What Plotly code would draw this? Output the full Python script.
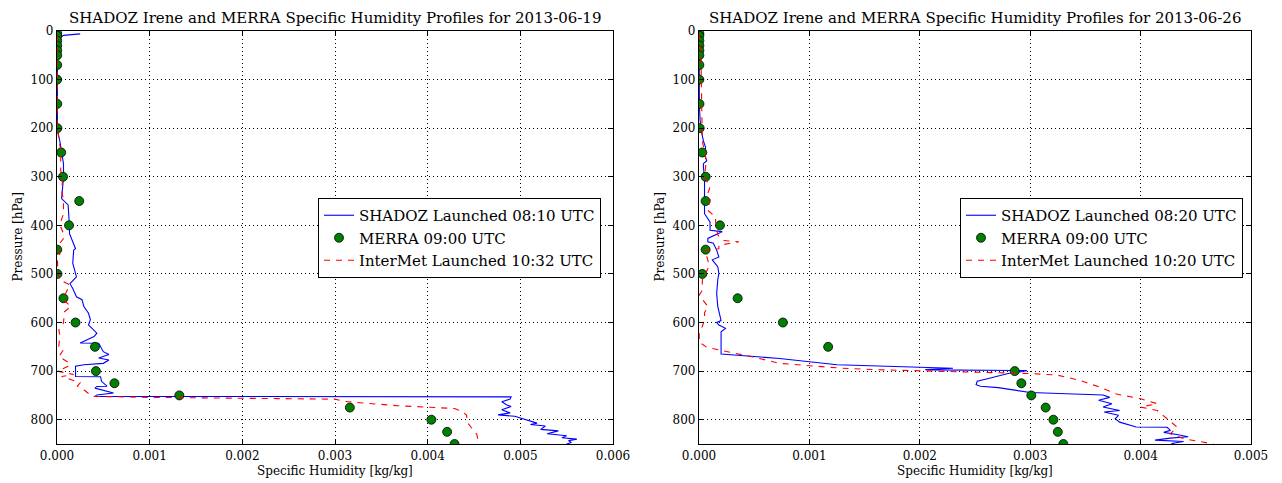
import plotly.graph_objects as go

# ---------------- Data: 2013-06-19 ----------------
merra_p = [5, 10, 20, 30, 40, 50, 70, 100, 150, 200, 250, 300, 350, 400, 450, 500,
           550, 600, 650, 700, 725, 750, 775, 800, 825, 850]
merra_q_19 = [0.000002, 0.000002, 0.000002, 0.000002, 0.000002, 0.000002, 0.000002, 0.000002,
              0.000003, 0.000004, 0.000045, 0.000065, 0.00024, 0.00013, 0.000003, 0.000005,
              0.00007, 0.0002, 0.00041, 0.00042, 0.00062, 0.00132, 0.00316, 0.00404, 0.00421, 0.00429]

shadoz_p_19 = [6, 9, 14.5, 25, 60, 100, 150, 205, 226, 246, 273, 301, 318, 345, 358, 382, 400,
               417, 424, 448, 451, 478, 506, 520, 530, 547, 553, 567, 581, 594, 605, 622, 629,
               642, 642.5, 649, 660, 666, 673, 677, 684, 687, 690, 697, 707, 711, 711.5, 721,
               731, 731.5, 735, 745, 749, 752, 753, 757.6, 763, 769, 773, 779.5, 786, 790, 793,
               800, 807, 810, 813, 820, 823, 829, 833, 837, 840, 843, 847, 850]
shadoz_q_19 = [0.00025, 0.00007, 0.00003, 0.000005, 0.000004, 0.000004, 0.000004, 0.000005,
               0.00003, 0.00005, 0.00007, 0.00007, 0.00006, 0.00005, 0.00012, 0.00013, 0.000134,
               0.000135, 0.00015, 0.0002, 0.00018, 0.00017, 0.00021, 0.00014, 0.00017, 0.00021,
               0.00027, 0.00029, 0.00034, 0.00036, 0.00034, 0.00043, 0.0004, 0.00025, 0.00045,
               0.00047, 0.0005, 0.00056, 0.00045, 0.00056, 0.0005, 0.00029, 0.0002, 0.0002,
               0.0002, 0.0002, 0.00047, 0.00048, 0.00054, 0.00043, 0.00041, 0.00061, 0.00043,
               0.00041, 0.0049, 0.00489, 0.0048, 0.00485, 0.0049, 0.0048, 0.00489, 0.00476,
               0.00494, 0.00507, 0.00518, 0.00511, 0.00527, 0.00522, 0.00541, 0.00529, 0.0055,
               0.00545, 0.00561, 0.00552, 0.00555, 0.0055]

intermet_p_19 = [10, 50, 100, 200, 246, 287, 308, 328, 348, 376, 393, 403, 417, 427, 437, 461,
                 471, 485, 500, 512, 523, 537, 553, 567, 578, 601, 615, 626, 649, 656, 670,
                 684, 690, 700, 707, 711, 724, 731, 740, 749, 752, 754, 756, 757.7, 762.5, 771,
                 777, 784, 791, 806, 816, 830, 839, 850]
intermet_q_19 = [0.000003, 0.000003, 0.000002, 0.000003, 0.00004, 0.00004, 0.00006, 0.00005,
                 0.00007, 0.00007, 0.00004, 0.00004, 0.00007, 0.00007, 0.00003, 0.00003, 0.000005,
                 0.000005, 0.00001, 0.00003, 0.00014, 0.0001, 0.00007, 0.00015, 0.00008,
                 0.00007, 0.00002, 0.00003, 0.00002, 0.00007, 0.00002, 0.00014, 0.00012,
                 0.000005, 0.00018, 0.00005, 0.00025, 0.00022, 0.0003, 0.00036, 0.0004, 0.001,
                 0.002, 0.003, 0.00311, 0.00366, 0.00429, 0.00438, 0.00442, 0.00443, 0.00447,
                 0.00453, 0.00454, 0.00456]

# ---------------- Data: 2013-06-26 ----------------
merra_q_26 = [0.000003, 0.000003, 0.000003, 0.000003, 0.000003, 0.000003, 0.000003, 0.000003,
              0.000004, 0.000006, 0.00003, 0.00006, 0.00006, 0.00019, 0.00006, 0.00003,
              0.00035, 0.00076, 0.00117, 0.00286, 0.00292, 0.00301, 0.00314, 0.00321, 0.00325, 0.0033]

shadoz_p_26 = [5, 50, 100, 150, 184, 205, 226, 240, 254, 267, 273, 281, 301, 322, 335, 376, 393,
               410, 413, 427, 434, 437, 451, 465, 471, 485, 499, 512, 540, 567, 596, 600, 605,
               612, 619, 635, 664, 665, 674, 687, 694, 697, 697.5, 699, 705, 714, 721, 728, 731,
               734, 737, 744, 749, 754, 760, 767, 774, 781, 784, 791, 798, 805, 815, 815.5, 822,
               826, 831, 835, 838, 842, 845, 849, 850]
shadoz_q_26 = [0.000002, 0.000002, 0.000002, 0.000003, 0.00001, 0.00002, 0.00004, 0.00006,
               0.00005, 0.00007, 0.00004, 0.00004, 0.00005, 0.00005, 0.00005, 0.00005, 0.0001,
               0.0001, 0.00021, 0.00008, 0.00008, 0.00013, 0.00016, 0.00018, 0.00012, 0.00017,
               0.00018, 0.00017, 0.00016, 0.00017, 0.0002, 0.00016, 0.00018, 0.00024, 0.0002,
               0.0002, 0.0002, 0.0002, 0.00073, 0.00125, 0.0023, 0.00205, 0.00209, 0.00297,
               0.0028, 0.00264, 0.00252, 0.00251, 0.00255, 0.00271, 0.00279, 0.003, 0.00366,
               0.00372, 0.00362, 0.00374, 0.00366, 0.00381, 0.00367, 0.0038, 0.00377, 0.00381,
               0.00396, 0.00424, 0.00427, 0.00421, 0.00434, 0.00443, 0.00427, 0.00413, 0.00439,
               0.00428, 0.0043]

intermet_p_26 = [5, 60, 90, 205, 226, 260, 280, 300, 321, 334, 348, 369, 383, 391, 420, 431,
                 434, 441, 448, 451, 471, 485, 512, 533, 544, 567, 580, 594, 608, 621, 640, 651,
                 658, 671, 684, 689, 694, 697, 700, 702, 705, 708, 719, 733, 747, 757, 767, 774,
                 781, 798, 815, 829, 839, 850]
intermet_q_26 = [0.000002, 0.00002, 0.00002, 0.00003, 0.00003, 0.00006, 0.00006, 0.00005, 0.0001,
                 0.00008, 0.0001, 0.00008, 0.00015, 0.00015, 0.00017, 0.00022, 0.00036, 0.00018,
                 0.00018, 0.00005, 0.00008, 0.00009, 0.00003, 0.00003, 0.000002, 0.00008,
                 0.00005, 0.00005, 0.00003, 0.000002, 0.000002, 0.00007, 0.00022, 0.00049,
                 0.00073, 0.00098, 0.00129, 0.00159, 0.00219, 0.00265, 0.003, 0.00324, 0.00345,
                 0.00363, 0.00378, 0.004, 0.00415, 0.004, 0.00415, 0.00424, 0.00433, 0.00427,
                 0.00439, 0.00466]

titles = ["SHADOZ Irene and MERRA Specific Humidity Profiles for 2013-06-19",
          "SHADOZ Irene and MERRA Specific Humidity Profiles for 2013-06-26"]
shadoz_names = ["SHADOZ Launched 08:10 UTC", "SHADOZ Launched 08:20 UTC"]
merra_name = "MERRA 09:00 UTC"
intermet_names = ["InterMet Launched 10:32 UTC", "InterMet Launched 10:20 UTC"]
x_ticks_19 = [0.000, 0.001, 0.002, 0.003, 0.004, 0.005, 0.006]
x_ticks_26 = [0.000, 0.001, 0.002, 0.003, 0.004, 0.005]
y_ticks = [0, 100, 200, 300, 400, 500, 600, 700, 800]

FONT = "DejaVu Serif"
W, H = 1282, 483

fig = go.Figure()

panels = [
    dict(sq=shadoz_q_19, sp=shadoz_p_19, mq=merra_q_19, iq=intermet_q_19, ip=intermet_p_19,
         xa="x", ya="y", leg="legend"),
    dict(sq=shadoz_q_26, sp=shadoz_p_26, mq=merra_q_26, iq=intermet_q_26, ip=intermet_p_26,
         xa="x2", ya="y2", leg="legend2"),
]
for i, pn in enumerate(panels):
    fig.add_trace(go.Scatter(x=pn["sq"], y=pn["sp"], mode="lines", name=shadoz_names[i],
                             line=dict(color="#0000ff", width=1.1), xaxis=pn["xa"], yaxis=pn["ya"],
                             legend=pn["leg"]))
    fig.add_trace(go.Scatter(x=pn["mq"], y=merra_p, mode="markers", name=merra_name,
                             marker=dict(color="#008000", size=9, line=dict(color="black", width=0.8)),
                             xaxis=pn["xa"], yaxis=pn["ya"], legend=pn["leg"]))
    fig.add_trace(go.Scatter(x=pn["iq"], y=pn["ip"], mode="lines", name=intermet_names[i],
                             line=dict(color="#ff0000", width=1.1, dash="6px,6px"),
                             xaxis=pn["xa"], yaxis=pn["ya"], legend=pn["leg"]))

x1 = (57 / W, 613 / W)
x2 = (699 / W, 1251 / W)
ytop = 1 - 31 / H
ybot = 1 - 444 / H

axis_common = dict(showline=True, linecolor="black", linewidth=1.2, mirror="ticks",
                   ticks="inside", ticklen=5, tickcolor="black", showgrid=True,
                   gridcolor="black", gridwidth=1, griddash="1px,3px", zeroline=False,
                   automargin=False,
                   tickfont=dict(family=FONT, size=12, color="black"))

legend_common = dict(y=1 - 198 / H, xanchor="right", yanchor="top",
                     bgcolor="white", bordercolor="black", borderwidth=1, itemwidth=30,
                     font=dict(family=FONT, size=15, color="black"), tracegroupgap=0)

fig.update_layout(
    width=W, height=H, margin=dict(l=0, r=0, t=0, b=0),
    paper_bgcolor="white", plot_bgcolor="white",
    font=dict(family=FONT, color="black"),
    xaxis=dict(domain=x1, range=[0, 0.006], tickvals=x_ticks_19, tickformat=".3f",
               anchor="y", **axis_common),
    yaxis=dict(domain=(ybot, ytop), range=[850, 0], tickvals=y_ticks, anchor="x", **axis_common),
    xaxis2=dict(domain=x2, range=[0, 0.005], tickvals=x_ticks_26, tickformat=".3f",
                anchor="y2", **axis_common),
    yaxis2=dict(domain=(ybot, ytop), range=[850, 0], tickvals=y_ticks, anchor="x2", **axis_common),
    legend=dict(x=601 / W, **legend_common),
    legend2=dict(x=1243 / W, **legend_common),
    showlegend=True,
)

annotations = []
for (a, b), t in zip([x1, x2], titles):
    annotations.append(dict(text=t, x=(a + b) / 2, y=ytop, xref="paper", yref="paper",
                            xanchor="center", yanchor="bottom", yshift=2, showarrow=False,
                            font=dict(family=FONT, size=15, color="black")))
    annotations.append(dict(text="Specific Humidity [kg/kg]", x=(a + b) / 2, y=1 - 471 / H,
                            xref="paper", yref="paper", xanchor="center", yanchor="middle",
                            showarrow=False, font=dict(family=FONT, size=12, color="black")))
for xp in [17, 659]:
    annotations.append(dict(text="Pressure [hPa]", x=xp / W, y=(ybot + ytop) / 2,
                            xref="paper", yref="paper", xanchor="center", yanchor="middle",
                            textangle=-90, showarrow=False,
                            font=dict(family=FONT, size=12, color="black")))
fig.update_layout(annotations=annotations)

fig.write_html("out.html")
